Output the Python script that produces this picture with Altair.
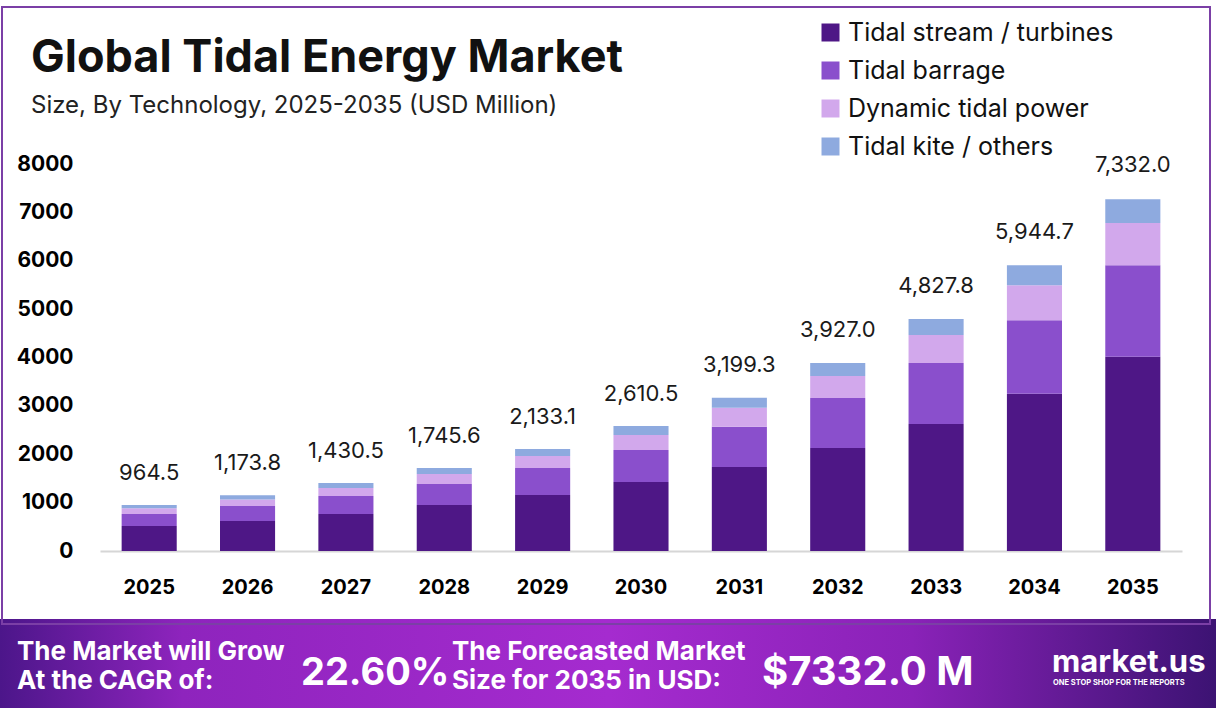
import altair as alt
import pandas as pd

years = ["2025", "2026", "2027", "2028", "2029", "2030", "2031", "2032", "2033", "2034", "2035"]
totals = [964.5, 1173.8, 1430.5, 1745.6, 2133.1, 2610.5, 3199.3, 3927.0, 4827.8, 5944.7, 7332.0]
segments = ["Tidal stream / turbines", "Tidal barrage", "Dynamic tidal power", "Tidal kite / others"]
stream = [516, 620, 764, 950, 1157, 1426, 1736, 2128, 2624, 3250, 4014]
barrage = [248, 310, 372, 434, 558, 661, 833, 1033, 1260, 1522, 1894]
dynamic = [118, 135, 165, 210, 248, 310, 393, 455, 579, 723, 874]
kite = [69, 85, 103, 120, 145, 186, 207, 269, 331, 413, 490]
colors = ["#4e1786", "#8a4fcc", "#d2a8ec", "#8eaadf"]

title_text = "Global Tidal Energy Market"
subtitle_text = "Size, By Technology, 2025-2035 (USD Million)"
banner_l1 = ["The Market will Grow", "At the CAGR of:"]
cagr_text = "22.60%"
banner_r1 = ["The Forecasted Market", "Size for 2035 in USD:"]
forecast_text = "$7332.0 M"
logo_text = "market.us"
logo_sub = "ONE STOP SHOP FOR THE REPORTS"

rows = []
for i, y in enumerate(years):
    for j, (s, vals) in enumerate(zip(segments, [stream, barrage, dynamic, kite])):
        rows.append({"year": y, "segment": s, "value": vals[i], "idx": j})
df = pd.DataFrame(rows)
tot_df = pd.DataFrame({"year": years, "total": totals})
one = pd.DataFrame({"a": [0]})

FONT = "Inter"

x_enc = alt.X("year:N", sort=years, title=None,
              scale=alt.Scale(paddingInner=0.44, paddingOuter=0.22),
              axis=alt.Axis(labelAngle=0, labelFontSize=20, labelFontWeight="bold", labelColor="#000",
                            labelFont=FONT, labelPadding=26, ticks=False, domainColor="#d6d6d6",
                            domainWidth=2))
y_scale = alt.Scale(domain=[0, 8000], nice=False)

bars = alt.Chart(df).mark_bar().encode(
    x=x_enc,
    y=alt.Y("value:Q", stack="zero", scale=y_scale, title=None,
            axis=alt.Axis(values=[0, 1000, 2000, 3000, 4000, 5000, 6000, 7000, 8000], format="d",
                          labelFontSize=21, labelFontWeight="bold", labelColor="#000", labelFont=FONT,
                          labelPadding=27, domain=False, ticks=False, grid=False)),
    color=alt.Color("segment:N", scale=alt.Scale(domain=segments, range=colors), title=None,
                    legend=alt.Legend(orient="none", legendX=718, legendY=-144, symbolType="square",
                                      symbolSize=324, symbolStrokeWidth=0, symbolOpacity=1,
                                      labelFontSize=25, labelFont=FONT, labelColor="#111",
                                      rowPadding=12, labelOffset=5, labelLimit=400)),
    order=alt.Order("idx:Q", sort="ascending"),
)

labels = alt.Chart(tot_df).mark_text(dy=-31, fontSize=22, font=FONT, color="#1a1a1a", baseline="middle").encode(
    x=alt.X("year:N", sort=years),
    y=alt.Y("total:Q", scale=y_scale),
    text=alt.Text("total:Q", format=",.1f"),
)

border = alt.Chart(one).mark_rect(fillOpacity=0, stroke="#7b3fa6", strokeWidth=2).encode(
    x=alt.value(-98), x2=alt.value(1110), y=alt.value(-157), y2=alt.value(460))

grad = alt.Gradient(gradient="linear", x1=0, x2=1, y1=0, y2=0, stops=[
    alt.GradientStop(color="#4c168a", offset=0),
    alt.GradientStop(color="#8e24bd", offset=0.15),
    alt.GradientStop(color="#a52bcf", offset=0.5),
    alt.GradientStop(color="#8a22b8", offset=0.75),
    alt.GradientStop(color="#3c1373", offset=1),
])
banner = alt.Chart(one).mark_rect(color=grad).encode(
    x=alt.value(-100), x2=alt.value(1116), y=alt.value(455), y2=alt.value(544))


def txt(t, x, y, size, weight="normal", color="#000", font=FONT, align="left", baseline="alphabetic"):
    return alt.Chart(one).mark_text(text=t, fontSize=size, fontWeight=weight, color=color, font=font,
                                    align=align, baseline=baseline).encode(x=alt.value(x), y=alt.value(y))


texts = [
    txt(title_text, -69, -92, 45, "bold", "#111"),
    txt(subtitle_text, -69, -51, 24, "normal", "#222"),
    txt(banner_l1[0], -83, 496, 26, "bold", "#fff"),
    txt(banner_l1[1], -83, 525, 26, "bold", "#fff"),
    txt(cagr_text, 201, 521, 38, "bold", "#fff"),
    txt(banner_r1[0], 352, 496, 26, "bold", "#fff"),
    txt(banner_r1[1], 352, 525, 26, "bold", "#fff"),
    txt(forecast_text, 662, 521, 40, "bold", "#fff"),
    txt(logo_text, 952, 508, 31, "bold", "#fff"),
    txt(logo_sub, 953, 521, 7.5, "bold", "#fff"),
]

chart = alt.layer(banner, border, bars, labels, *texts).properties(
    width=1082, height=387,
    autosize=alt.AutoSizeParams(type="none"),
    padding={"left": 100, "top": 164, "right": 34, "bottom": 170},
    background="#ffffff",
).configure_view(stroke=None)

chart.save("out.html", embed_options={"renderer": "svg", "actions": False})
